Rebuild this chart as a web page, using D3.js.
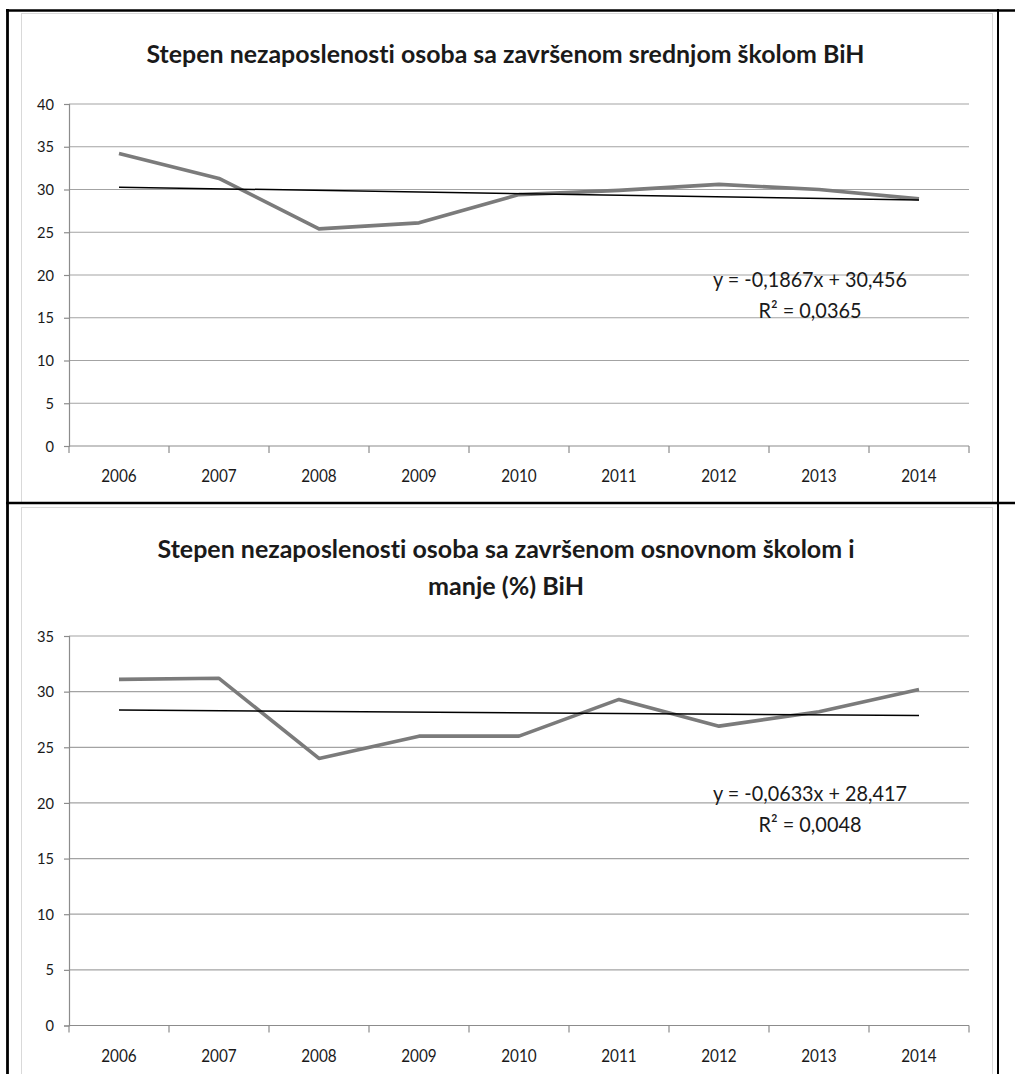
<!DOCTYPE html>
<html>
<head>
<meta charset="utf-8">
<script src="https://cdn.jsdelivr.net/npm/d3@7"></script>
<style>
  html, body { margin: 0; padding: 0; background: #fff; }
  svg { display: block; }
  text { font-family: Lato, "Open Sans", "DejaVu Sans", sans-serif; fill: #1a1a1a;
         font-variant-ligatures: none; font-feature-settings: "liga" 0, "clig" 0; }
</style>
</head>
<body>
<svg id="chart" width="1015" height="1074"></svg>
<script>
// ---------------- DATA ----------------
const years = ["2006", "2007", "2008", "2009", "2010", "2011", "2012", "2013", "2014"];

// Chart 1: unemployment rate, secondary school (BiH)
const title1 = ["Stepen nezaposlenosti osoba sa završenom srednjom školom BiH"];
const secondaryValues = [34.2, 31.3, 25.4, 26.1, 29.4, 29.9, 30.6, 30.0, 28.9];
const yTicks1 = [0, 5, 10, 15, 20, 25, 30, 35, 40];
const trend1 = [-0.1867, 30.456];            // slope, intercept (x = 1..9)
const eq1 = ["y = -0,1867x + 30,456", "R² = 0,0365"];

// Chart 2: unemployment rate, primary school and less (BiH)
const title2 = ["Stepen nezaposlenosti osoba sa završenom osnovnom školom i", "manje (%) BiH"];
const primaryValues = [31.1, 31.2, 24.0, 26.0, 26.0, 29.3, 26.9, 28.2, 30.2];
const yTicks2 = [0, 5, 10, 15, 20, 25, 30, 35];
const trend2 = [-0.0633, 28.417];
const eq2 = ["y = -0,0633x + 28,417", "R² = 0,0048"];

// ---------------- DRAWING ----------------
const svg = d3.select("#chart");

function drawChart(o) {
  const g = svg.append("g");

  // chart area frame (light grey)
  g.append("rect")
    .attr("x", o.box[0] + 0.5).attr("y", o.box[1] + 0.5)
    .attr("width", o.box[2]).attr("height", o.box[3])
    .attr("fill", "#fff").attr("stroke", "#d9d9d9").attr("stroke-width", 1);

  const x = d3.scaleBand().domain(o.cats).range([o.plot.left, o.plot.right]).padding(0);
  const y = d3.scaleLinear().domain([0, o.yMax]).range([o.plot.bottom, o.plot.top]);

  // gridlines
  g.append("g").selectAll("line").data(o.yTicks.filter(t => t > 0)).join("line")
    .attr("x1", o.plot.left).attr("x2", o.plot.right)
    .attr("y1", d => y(d)).attr("y2", d => y(d))
    .attr("stroke", "#a3a3a3").attr("stroke-width", 1.2);

  // y axis
  const yAxis = d3.axisLeft(y).tickValues(o.yTicks).tickSize(5).tickPadding(10).tickFormat(d3.format("d"));
  const ya = g.append("g").attr("transform", `translate(${o.plot.left},0)`).call(yAxis);
  ya.select(".domain").attr("stroke", "#8c8c8c").attr("stroke-width", 1.2);
  ya.selectAll(".tick line").attr("stroke", "#8c8c8c").attr("stroke-width", 1.2);
  ya.selectAll(".tick text").attr("font-size", 16).attr("fill", "#1a1a1a")
    .style("font-family", "Lato, 'Open Sans', sans-serif")
    .attr("textLength", d => String(d).length * 8.5).attr("lengthAdjust", "spacingAndGlyphs");

  // x axis (ticks on category boundaries)
  const xa = g.append("g").attr("transform", `translate(0,${o.plot.bottom})`);
  xa.append("line").attr("x1", o.plot.left).attr("x2", o.plot.right).attr("y1", 0).attr("y2", 0)
    .attr("stroke", "#8c8c8c").attr("stroke-width", 1.2);
  const bounds = o.cats.map(c => x(c)).concat([x(o.cats[o.cats.length - 1]) + x.bandwidth()]);
  xa.selectAll("line.tk").data(bounds).join("line").attr("class", "tk")
    .attr("x1", d => d).attr("x2", d => d).attr("y1", 0).attr("y2", 7)
    .attr("stroke", "#8c8c8c").attr("stroke-width", 1.2);
  xa.selectAll("text").data(o.cats).join("text")
    .attr("x", d => x(d) + x.bandwidth() / 2).attr("y", 36)
    .attr("text-anchor", "middle").attr("font-size", 18)
    .attr("textLength", 35.5).attr("lengthAdjust", "spacingAndGlyphs")
    .text(d => d);

  const cx = d => x(d) + x.bandwidth() / 2;

  // data line
  const line = d3.line().x((d, i) => cx(o.cats[i])).y(d => y(d));
  g.append("path").datum(o.values).attr("d", line)
    .attr("fill", "none").attr("stroke", "#7b7b7b").attr("stroke-width", 3.6)
    .attr("stroke-linejoin", "round");

  // linear trend line from Excel equation
  const n = o.cats.length;
  const tEnds = [1, n].map(k => o.trend[0] * k + o.trend[1]);
  g.append("line")
    .attr("x1", cx(o.cats[0])).attr("x2", cx(o.cats[n - 1]))
    .attr("y1", y(tEnds[0])).attr("y2", y(tEnds[1]))
    .attr("stroke", "#000").attr("stroke-width", 1.5);

  // title
  o.title.forEach((t, i) => {
    g.append("text").attr("x", o.titleX).attr("y", o.titleY[i])
      .attr("text-anchor", "middle").attr("font-size", 24.5).attr("font-weight", "bold")
      .attr("fill", "#000")
      .attr("textLength", o.titleLen[i]).attr("lengthAdjust", "spacingAndGlyphs")
      .text(t);
  });

  // equation label
  o.eq.forEach((t, i) => {
    g.append("text").attr("x", o.eqX).attr("y", o.eqY[i])
      .attr("text-anchor", "middle").attr("font-size", 22)
      .attr("textLength", o.eqLen[i]).attr("lengthAdjust", "spacingAndGlyphs")
      .text(t);
  });
}

drawChart({
  box: [21, 13, 971, 489],
  plot: { left: 69, right: 969, top: 104, bottom: 446 },
  cats: years, values: secondaryValues, yTicks: yTicks1, yMax: 40,
  trend: trend1,
  title: title1, titleX: 505.5, titleY: [63], titleLen: [718],
  eq: eq1, eqX: 810, eqY: [287, 318], eqLen: [194, 103]
});

drawChart({
  box: [21, 507, 971, 580],
  plot: { left: 69, right: 969, top: 636, bottom: 1025.5 },
  cats: years, values: primaryValues, yTicks: yTicks2, yMax: 35,
  trend: trend2,
  title: title2, titleX: 506, titleY: [558, 595], titleLen: [697, 156],
  eq: eq2, eqX: 810, eqY: [801, 832], eqLen: [194, 103]
});

// surrounding table borders (black)
const frame = svg.append("g").attr("stroke", "#000");
frame.append("line").attr("x1", 6).attr("x2", 1015).attr("y1", 10.5).attr("y2", 10.5).attr("stroke-width", 2.6);
frame.append("line").attr("x1", 6).attr("x2", 1015).attr("y1", 503).attr("y2", 503).attr("stroke-width", 2.6);
frame.append("line").attr("x1", 7.5).attr("x2", 7.5).attr("y1", 9).attr("y2", 1074).attr("stroke-width", 2.8);
frame.append("line").attr("x1", 998).attr("x2", 998).attr("y1", 9).attr("y2", 1074).attr("stroke-width", 2);
</script>
</body>
</html>
